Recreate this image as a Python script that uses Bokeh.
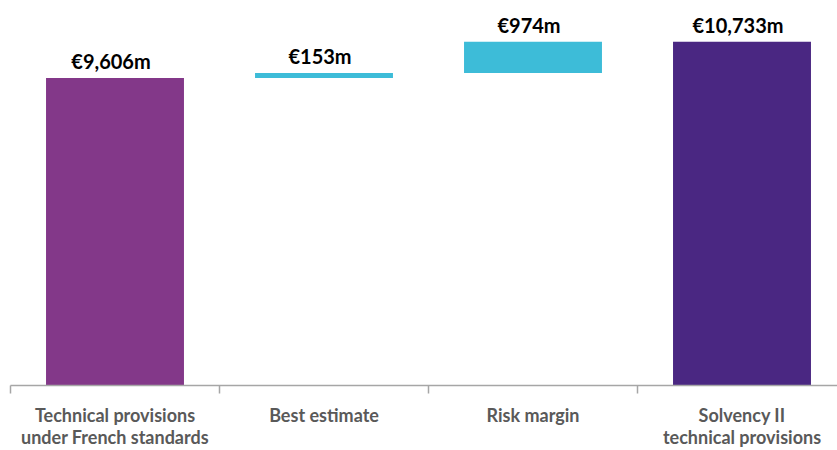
from bokeh.plotting import figure
from bokeh.models import ColumnDataSource, Range1d, FixedTicker
from bokeh.core.properties import value
from bokeh.embed import file_html
from bokeh.resources import INLINE

categories = ["Technical provisions\nunder French standards", "Best estimate",
              "Risk margin", "Solvency II\ntechnical provisions"]
amounts = [9606, 153, 974, 10733]
kinds = ["total", "step", "step", "total"]
labels = ["€9,606m", "€153m", "€974m", "€10,733m"]
colors = ["#833889", "#3DBCD8", "#3DBCD8", "#4A2782"]

bottoms, tops = [], []
running = 0
for a, k in zip(amounts, kinds):
    if k == "total":
        bottoms.append(0)
        tops.append(a)
        running = a
    else:
        bottoms.append(running)
        running += a
        tops.append(running)

xs = [i + 0.5 for i in range(len(categories))]
src = ColumnDataSource(dict(x=xs, bottom=bottoms, top=tops, color=colors, label=labels))

p = figure(width=837, height=450, output_backend="svg", toolbar_location=None,
           x_range=Range1d(0, 827 / 209), y_range=Range1d(0, 11773),
           min_border_left=10, min_border_right=0, min_border_top=8, min_border_bottom=65,
           y_axis_location=None)
p.outline_line_color = None
p.xgrid.visible = False
p.ygrid.visible = False

p.vbar(x="x", bottom="bottom", top="top", width=0.66, color="color", line_color=None, source=src)
p.text(x="x", y="top", text="label", source=src, text_align="center", text_baseline="alphabetic",
       y_offset=-17, x_offset=-4, text_font=value("Lato"), text_font_style="bold",
       text_font_size="20px", text_color="#000000")

ax = p.xaxis[0]
ax.ticker = FixedTicker(ticks=xs, minor_ticks=[0, 1, 2, 3, 4])
ax.major_label_overrides = {x: c for x, c in zip(xs, categories)}
ax.major_tick_in = 0
ax.major_tick_out = 0
ax.minor_tick_in = 0
ax.minor_tick_out = 8
ax.minor_tick_line_color = "#A6A6A6"
ax.minor_tick_line_width = 1.5
ax.axis_line_color = "#A6A6A6"
ax.axis_line_width = 1.5
ax.major_label_standoff = 10
ax.major_label_text_font = "Lato"
ax.major_label_text_font_style = "bold"
ax.major_label_text_font_size = "18px"
ax.major_label_text_line_height = 1.0
ax.major_label_text_color = "#595959"

open("out.html", "w").write(file_html(p, INLINE))
